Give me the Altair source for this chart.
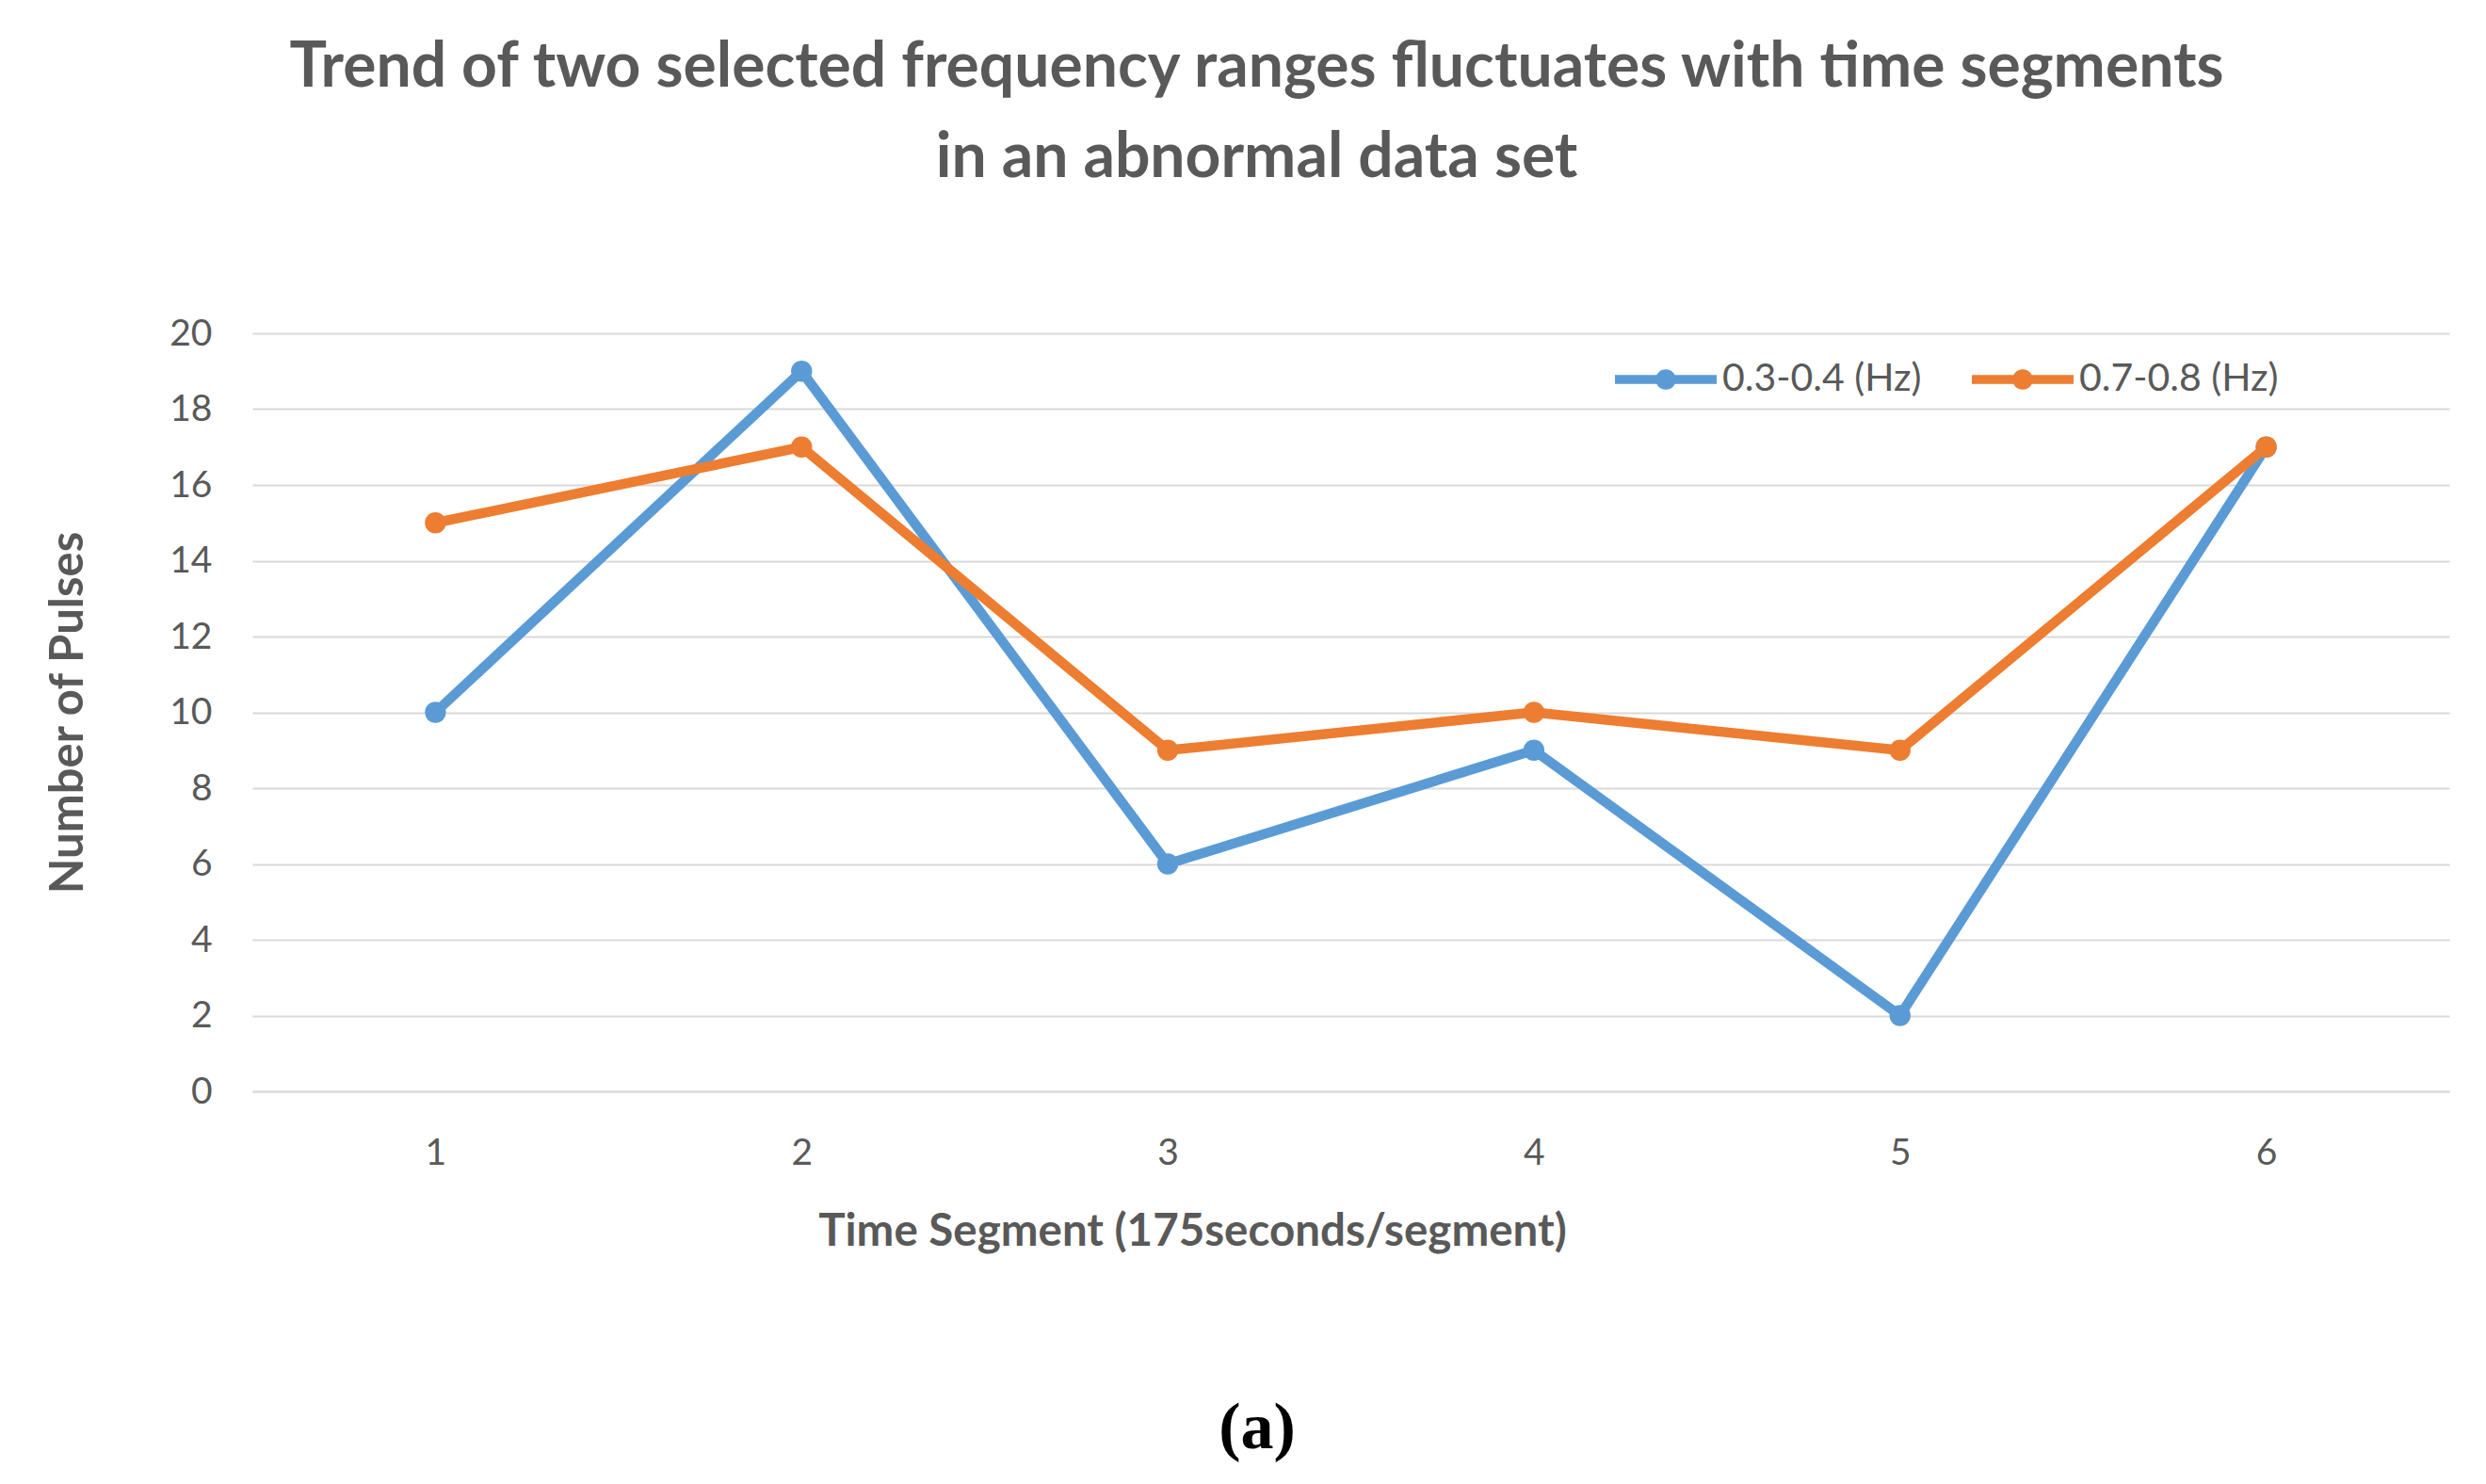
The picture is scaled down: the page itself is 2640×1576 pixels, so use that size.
import altair as alt
import pandas as pd

# ---- data ----
segments = ["1", "2", "3", "4", "5", "6"]
series_names = ["0.3-0.4 (Hz)", "0.7-0.8 (Hz)"]
band_low = [10, 19, 6, 9, 2, 17]    # 0.3-0.4 (Hz)
band_high = [15, 17, 9, 10, 9, 17]  # 0.7-0.8 (Hz)
y_ticks = [0, 2, 4, 6, 8, 10, 12, 14, 16, 18, 20]
series_colors = ["#5B9BD5", "#ED7D31"]
title_lines = [
    "Trend of two selected frequency ranges fluctuates with time segments",
    "in an abnormal data set",
]
x_title = "Time Segment (175seconds/segment)"
y_title = "Number of Pulses"
caption = ["(a)"]

rows = []
for name, values in zip(series_names, [band_low, band_high]):
    for seg, v in zip(segments, values):
        rows.append({"segment": seg, "series": name, "pulses": v})
df = pd.DataFrame(rows)

W, H = 2333, 805
TEXT = "#595959"
GRID = "#D9D9D9"

# legend symbol: line with a dot in the middle (unit square -1..1)
legend_path = (
    "M-1,-0.09L1,-0.09L1,0.09L-1,0.09Z "
    "M-0.2,0A0.2,0.2 0 1,1 0.2,0A0.2,0.2 0 1,1 -0.2,0Z"
)

color = alt.Color(
    "series:N",
    scale=alt.Scale(domain=series_names, range=series_colors),
    legend=alt.Legend(
        title=None,
        orient="none",
        legendX=1447,
        legendY=-5,
        direction="horizontal",
        symbolType=legend_path,
        symbolSize=108 * 108,
        symbolStrokeWidth=0,
        labelFont="Lato",
        labelFontSize=41,
        labelColor=TEXT,
        labelOffset=6,
        labelLimit=0,
        columnPadding=53,
        padding=0,
    ),
)

x = alt.X(
    "segment:O",
    sort=segments,
    scale=alt.Scale(type="point", padding=0.5),
    axis=alt.Axis(
        title=x_title,
        labelAngle=0,
        labelFont="Lato",
        labelFontSize=39,
        labelColor=TEXT,
        labelPadding=46,
        ticks=False,
        domain=True,
        domainColor=GRID,
        domainWidth=2,
        grid=False,
        titleFont="Lato",
        titleFontSize=47.5,
        titleFontWeight="bold",
        titleColor=TEXT,
        titleX=998,
        titleY=149,
        titleAnchor="middle",
        titleAlign="center",
        titleBaseline="middle",
    ),
)

y = alt.Y(
    "pulses:Q",
    scale=alt.Scale(domain=[0, 20], nice=False, zero=True),
    axis=alt.Axis(
        title=y_title,
        values=y_ticks,
        labelFont="Lato",
        labelFontSize=39,
        labelColor=TEXT,
        labelPadding=43,
        ticks=False,
        domain=False,
        grid=True,
        gridColor=GRID,
        gridWidth=2,
        titleFont="Lato",
        titleFontSize=49,
        titleFontWeight="bold",
        titleColor=TEXT,
        titleX=-196,
        titleY=H / 2,
        titleAngle=270,
        titleAlign="center",
        titleBaseline="middle",
    ),
)

base = alt.Chart(df)
lines = base.mark_line(strokeWidth=10.5, strokeCap="round", strokeJoin="round").encode(
    x=x, y=y, color=color, detail="series:N"
)
points = base.mark_point(filled=True, size=500, opacity=1, shape="circle").encode(
    x=x, y=y, color=color
)

cap = alt.Chart(pd.DataFrame({"t": caption})).mark_text(
    font="Liberation Serif", fontWeight="bold", fontSize=70, color="black",
    align="center", baseline="middle",
).encode(text="t:N", x=alt.value(1067), y=alt.value(1163))

chart = (
    alt.layer(lines, points, cap)
    .properties(
        width=W,
        height=H,
        title=alt.TitleParams(
            text=title_lines,
            font="Lato",
            fontSize=66,
            fontWeight="bold",
            color=TEXT,
            lineHeight=96,
            anchor="middle",
            dx=-100,
            offset=133,
        ),
        padding={"left": 260, "top": 346, "right": 25, "bottom": 400},
        autosize=alt.AutoSizeParams(type="none"),
        background="white",
    )
    .configure_view(stroke=None)
)

chart.save("out.html", embed_options={"renderer": "svg", "actions": False})
